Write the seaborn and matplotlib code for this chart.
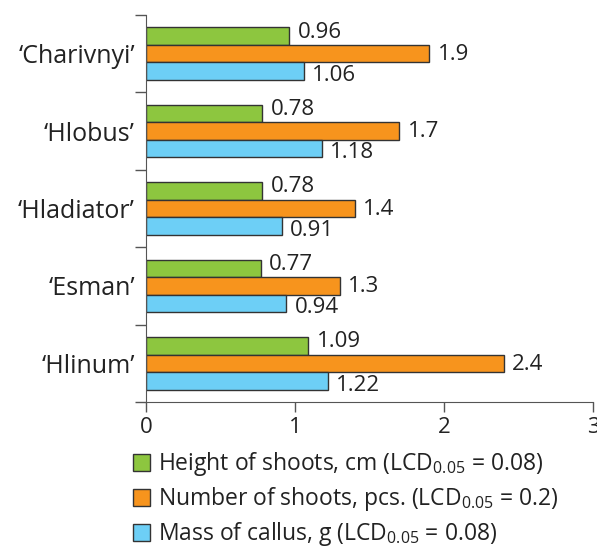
import pandas as pd
import matplotlib.pyplot as plt
import seaborn as sns

# Data
varieties = ["\u2018Charivnyi\u2019", "\u2018Hlobus\u2019", "\u2018Hladiator\u2019", "\u2018Esman\u2019", "\u2018Hlinum\u2019"]
height_shoots = [0.96, 0.78, 0.78, 0.77, 1.09]
number_shoots = [1.9, 1.7, 1.4, 1.3, 2.4]
mass_callus = [1.06, 1.18, 0.91, 0.94, 1.22]
series_names = [
    "Height of shoots, cm (LCD$_{0.05}$ = 0.08)",
    "Number of shoots, pcs. (LCD$_{0.05}$ = 0.2)",
    "Mass of callus, g (LCD$_{0.05}$ = 0.08)",
]
colors = ["#8dc63f", "#f7941d", "#6dcff6"]

# Long format table for seaborn
data = pd.DataFrame({
    "variety": varieties * 3,
    "value": height_shoots + number_shoots + mass_callus,
    "series": [series_names[0]] * 5 + [series_names[1]] * 5 + [series_names[2]] * 5,
})

sns.set_style("white")
plt.rcParams["font.family"] = ["Open Sans", "DejaVu Sans"]
plt.rcParams["mathtext.fontset"] = "custom"
plt.rcParams["mathtext.rm"] = "Open Sans"
plt.rcParams["mathtext.it"] = "Open Sans"

fig = plt.figure(figsize=(5.97, 5.46), dpi=100)
ax = fig.add_axes([0.2446, 0.2637, 0.7487, 0.7088])

sns.barplot(data=data, x="value", y="variety", hue="series", order=varieties,
            hue_order=series_names, palette=colors, orient="h", width=0.68,
            edgecolor="#333333", linewidth=1, saturation=1, ax=ax, legend=True)

# Value labels right of each bar (green a bit higher, blue a bit lower)
for container, vals, dy in zip(ax.containers, [height_shoots, number_shoots, mass_callus], [3, -0.5, -3]):
    for bar, v in zip(container, vals):
        ax.annotate(str(v), (bar.get_width(), bar.get_y() + bar.get_height() / 2),
                    xytext=(6, dy), textcoords="offset points", va="center", ha="left",
                    fontsize=16, color="#222222")

ax.set_xlim(0, 3)
ax.set_ylim(4.5, -0.5)
ax.set_xticks([0, 1, 2, 3])
ax.set_xlabel("")
ax.set_ylabel("")
ax.set_yticks(range(5))
ax.set_yticks([i - 0.5 for i in range(6)], minor=True)
ax.tick_params(axis="y", which="major", length=0, labelsize=18, pad=8, labelcolor="#222222")
ax.tick_params(axis="y", which="minor", length=8, width=1, color="#555555", left=True)
ax.tick_params(axis="x", length=7, width=1, color="#555555", labelsize=16, bottom=True,
               labelcolor="#222222")
for side in ["top", "right"]:
    ax.spines[side].set_visible(False)
ax.spines["left"].set_color("#555555")
ax.spines["bottom"].set_color("#555555")

handles, labels = ax.get_legend_handles_labels()
ax.get_legend().remove()
leg = fig.legend(handles, labels, loc="upper left", bbox_to_anchor=(0.222, 0.175),
                 frameon=False, fontsize=16.5, handlelength=0.75, handleheight=0.75,
                 handletextpad=0.35, labelspacing=0.3, borderaxespad=0, borderpad=0)
for t in leg.get_texts():
    t.set_color("#222222")

fig.savefig("out.png", dpi=100)
